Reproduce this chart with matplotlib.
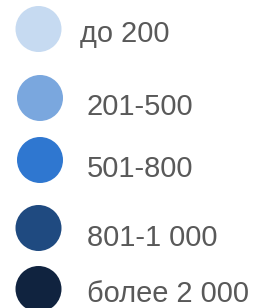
import matplotlib.pyplot as plt
from matplotlib.patches import Circle

labels = ['до 200', '201-500', '501-800', '801-1 000', 'более 2 000']
colors = ['#c6daf1', '#7aa7de', '#2f77d0', '#1f4a80', '#10233f']

# layout in pixels (figure is 254x308)
circle_x = [38.5, 40, 40, 38.5, 38.5]
circle_y = [29, 98, 160, 228, 289]
text_x = [80, 87, 87, 87, 87]
text_base = [42, 115, 177, 246, 302]
radius = 23

fig = plt.figure(figsize=(2.54, 3.08), dpi=100)
ax = fig.add_axes([0, 0, 1, 1])
ax.set_xlim(0, 254)
ax.set_ylim(308, 0)
ax.set_aspect('equal')
ax.axis('off')

for i in range(len(labels)):
    ax.add_patch(Circle((circle_x[i], circle_y[i]), radius, color=colors[i], lw=0))
    ax.text(text_x[i], text_base[i], labels[i], fontsize=20.9, color='#595959',
            family='Liberation Sans', va='baseline', ha='left')

fig.savefig('out.png', dpi=100)
